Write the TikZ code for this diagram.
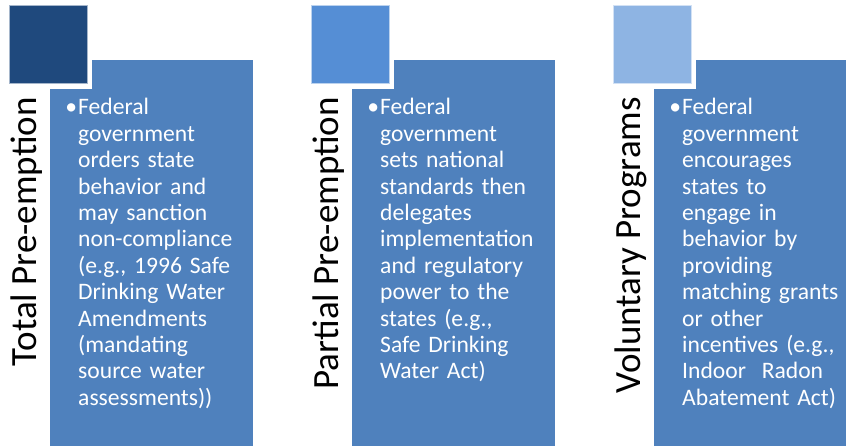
\documentclass[tikz,border=0pt]{standalone}
\usepackage{fontspec}
\setmainfont{Carlito}
\definecolor{bleu}{RGB}{79,129,189}
\definecolor{carreA}{RGB}{31,73,125}
\definecolor{carreB}{RGB}{85,142,213}
\definecolor{carreC}{RGB}{142,180,227}
\begin{document}
\begin{tikzpicture}[x=1pt,y=-1pt,
  titre/.style={rotate=90,anchor=base east,inner sep=0pt,font=\fontsize{37}{40}\selectfont},
  corps/.style={anchor=base west,inner sep=0pt,text=white,text width=170pt,align=left,
    font=\fontsize{23.6}{26.4}\selectfont}]

\clip (0,0) rectangle (846,446);

\foreach \x/\c in {0/carreA,302/carreB,604/carreC} % les trois colonnes
{
	\fill[bleu] (50+\x,60) rectangle (253+\x,446);
	\fill[white] (4+\x,0) rectangle (92+\x,89);
	\filldraw[fill=\c,draw=white!60!\c,line width=0.8pt] (9+\x,5) rectangle (87+\x,83);
}

\node[titre] (t1) at (36,97) {Total Pre-emption};
\node[titre] (t2) at (338,97) {Partial Pre-emption};
\node[titre] (t3) at (640,97) {Voluntary Programs};

\node[corps] (c1) at (78,115) {\llap{•\hspace{1pt}}Federal\\government\\orders state\\behavior and\\may sanction\\non-compliance\\(e.g., 1996 Safe\\Drinking Water\\Amendments\\(mandating\\source water\\assessments))};
\node[corps] (c2) at (380,115) {\llap{•\hspace{1pt}}Federal\\government\\sets national\\standards then\\delegates\\implementation\\and regulatory\\power to the\\states (e.g.,\\Safe Drinking\\Water Act)};
\node[corps] (c3) at (682,115) {\llap{•\hspace{1pt}}Federal\\government\\encourages\\states to\\engage in\\behavior by\\providing\\matching grants\\or other\\incentives (e.g.,\\Indoor\ \ Radon\\Abatement Act)};

\end{tikzpicture}
\end{document}
